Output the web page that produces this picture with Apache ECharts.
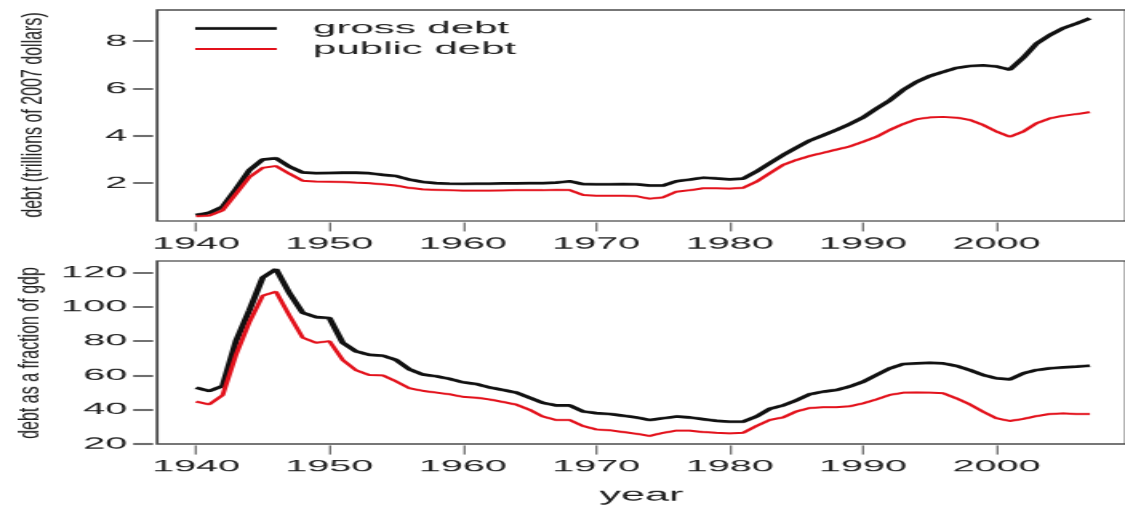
<!DOCTYPE html>
<html>
<head>
<meta charset="utf-8">
<script src="https://cdn.jsdelivr.net/npm/echarts@6/dist/echarts.min.js"></script>
<style>
  html, body { margin: 0; padding: 0; background: #fff; overflow: hidden; }
  #wrap { width: 1125px; height: 506px; overflow: hidden; position: relative; }
  /* the figure is laid out narrow and widened horizontally */
  #chart { width: 469px; height: 506px; transform-origin: 0 0; }
</style>
</head>
<body>
<div id="wrap"><div id="chart"></div></div>
<script>
// ---- data -------------------------------------------------------------
const years = [
  1940, 1941, 1942, 1943, 1944, 1945, 1946, 1947, 1948, 1949,
  1950, 1951, 1952, 1953, 1954, 1955, 1956, 1957, 1958, 1959,
  1960, 1961, 1962, 1963, 1964, 1965, 1966, 1967, 1968, 1969,
  1970, 1971, 1972, 1973, 1974, 1975, 1976, 1977, 1978, 1979,
  1980, 1981, 1982, 1983, 1984, 1985, 1986, 1987, 1988, 1989,
  1990, 1991, 1992, 1993, 1994, 1995, 1996, 1997, 1998, 1999,
  2000, 2001, 2002, 2003, 2004, 2005, 2006, 2007
];

// debt in trillions of 2007 dollars
const grossDebt = [
  0.65, 0.75, 1.00, 1.75, 2.55, 3.00, 3.05, 2.70, 2.45, 2.42,
  2.43, 2.44, 2.44, 2.42, 2.35, 2.30, 2.15, 2.05, 2.00, 1.98,
  1.97, 1.98, 1.98, 1.99, 1.99, 2.00, 2.00, 2.02, 2.08, 1.96,
  1.95, 1.95, 1.96, 1.95, 1.90, 1.90, 2.08, 2.15, 2.23, 2.20,
  2.16, 2.19, 2.49, 2.84, 3.19, 3.50, 3.80, 4.02, 4.25, 4.50,
  4.78, 5.15, 5.50, 5.94, 6.28, 6.53, 6.70, 6.87, 6.95, 6.98,
  6.93, 6.80, 7.30, 7.90, 8.26, 8.55, 8.75, 8.97
];
const publicDebt = [
  0.60, 0.63, 0.85, 1.55, 2.25, 2.65, 2.72, 2.40, 2.10, 2.07,
  2.06, 2.05, 2.02, 2.00, 1.95, 1.90, 1.80, 1.74, 1.72, 1.70,
  1.68, 1.68, 1.68, 1.69, 1.70, 1.70, 1.70, 1.72, 1.71, 1.50,
  1.47, 1.47, 1.47, 1.45, 1.34, 1.40, 1.64, 1.70, 1.78, 1.78,
  1.77, 1.80, 2.06, 2.42, 2.77, 2.98, 3.15, 3.28, 3.42, 3.55,
  3.75, 3.96, 4.25, 4.50, 4.70, 4.78, 4.80, 4.77, 4.67, 4.46,
  4.18, 3.96, 4.18, 4.53, 4.74, 4.85, 4.92, 5.00
];

// debt as a percentage of gdp
const grossDebtGdp = [
  52.8, 50.9, 53.8, 80.0, 98.0, 117.0, 122.0, 108.0, 96.5, 94.0,
  93.5, 79.0, 74.0, 72.0, 71.5, 69.0, 63.5, 60.5, 59.5, 58.0,
  56.0, 55.0, 53.0, 51.5, 50.0, 47.0, 44.0, 42.5, 42.5, 39.0,
  38.0, 37.5, 36.5, 35.5, 34.0, 35.0, 36.0, 35.5, 34.5, 33.5,
  33.0, 33.0, 36.0, 40.5, 42.5, 45.5, 49.0, 50.5, 51.5, 53.5,
  56.3, 60.2, 64.1, 66.6, 67.0, 67.3, 67.0, 65.5, 63.1, 60.2,
  58.3, 57.7, 61.2, 63.1, 64.1, 64.7, 65.1, 65.7
];
const publicDebtGdp = [
  44.7, 43.1, 48.5, 72.0, 91.0, 106.5, 108.8, 95.0, 82.0, 79.0,
  80.0, 69.0, 63.0, 60.2, 60.0, 56.5, 52.5, 51.0, 50.0, 49.0,
  47.5, 47.0, 46.0, 44.5, 43.0, 40.0, 36.0, 34.0, 34.0, 30.5,
  28.5, 28.0, 27.0, 26.0, 24.7, 26.5, 27.8, 27.8, 27.0, 26.5,
  26.2, 26.5, 30.5, 34.0, 35.5, 39.0, 41.0, 41.5, 41.5, 42.0,
  43.7, 46.0, 48.6, 49.9, 50.0, 49.9, 49.6, 46.6, 43.1, 38.8,
  35.0, 33.4, 34.6, 36.3, 37.5, 37.9, 37.5, 37.5
];

// tick labels
const yearTicks = [1940, 1950, 1960, 1970, 1980, 1990, 2000];
const dollarTicks = [2, 4, 6, 8];
const gdpTicks = [20, 40, 60, 80, 100, 120];

const seriesNames = ['gross debt', 'public debt'];

// ---- layout -----------------------------------------------------------
const chartEl = document.getElementById('chart');
const BASE_W = 469;
const K = 1125 / BASE_W;               // horizontal widening factor
chartEl.style.transform = 'scaleX(' + K + ')';
const sx = px => px / K;               // page x -> unscaled x

const FONT = '"Liberation Sans", Arial, Helvetica, sans-serif';
const INK = '#222';
const BOX = '#4a4a4a';

const plotLeft = sx(157);
const xMin = 1937.09;
const xMax = 2009.69;

function pairs(vals) { return years.map((y, i) => [y, vals[i]]); }

function xAxisCfg(gridIndex, withName) {
  return {
    type: 'value', gridIndex: gridIndex, min: xMin, max: xMax,
    offset: 1.5,
    axisLine: { show: false },
    splitLine: { show: false },
    axisTick: { show: true, length: 9, customValues: yearTicks,
                lineStyle: { color: BOX, width: 0.7 } },
    axisLabel: { show: true, customValues: yearTicks, margin: 13,
                 formatter: v => String(v),
                 color: INK, fontSize: 16.5, fontFamily: FONT },
    name: withName ? 'year' : '',
    nameLocation: 'middle', nameGap: 41,
    nameTextStyle: { color: INK, fontSize: 18, fontFamily: FONT }
  };
}

function yAxisCfg(gridIndex, min, max, ticks) {
  return {
    type: 'value', gridIndex: gridIndex, min: min, max: max,
    offset: sx(4),
    axisLine: { show: false },
    splitLine: { show: false },
    axisTick: { show: true, length: sx(20), customValues: ticks,
                lineStyle: { color: BOX, width: 1.6 } },
    axisLabel: { show: true, customValues: ticks, margin: sx(26),
                 color: INK, fontSize: 16.5, fontFamily: FONT }
  };
}

const lineBlack = { color: '#111', width: 2.7 };
const lineRed = { color: '#e3121c', width: 2.0 };

// legend keys: a stroke across a 34x14 box (corner specks keep the box size)
const keyBlack = 'path://M0,0 L0.01,0 L0,0.01 Z M0,5.6 L34,5.6 L34,8.4 L0,8.4 Z M34,14 L33.99,14 L34,13.99 Z';
const keyRed = 'path://M0,0 L0.01,0 L0,0.01 Z M0,6 L34,6 L34,8 L0,8 Z M34,14 L33.99,14 L34,13.99 Z';

const option = {
  animation: false,
  backgroundColor: '#ffffff',
  grid: [
    { left: plotLeft, right: -2, top: 10, height: 211,
      show: true, borderColor: BOX, borderWidth: 1.2, backgroundColor: 'transparent' },
    { left: plotLeft, right: -2, top: 261, height: 183,
      show: true, borderColor: BOX, borderWidth: 1.2, backgroundColor: 'transparent' }
  ],
  xAxis: [xAxisCfg(0, false), xAxisCfg(1, true)],
  yAxis: [
    yAxisCfg(0, 0.4, 9.32, dollarTicks),
    yAxisCfg(1, 20, 126.7, gdpTicks)
  ],
  legend: {
    data: [
      { name: seriesNames[0], icon: keyBlack },
      { name: seriesNames[1], icon: keyRed }
    ],
    orient: 'vertical',
    left: sx(195), top: 19.5,
    padding: 0, itemGap: 2.5,
    itemWidth: sx(82), itemHeight: 14,
    textStyle: { color: INK, fontSize: 17.5, fontFamily: FONT, padding: [0, 0, 0, sx(24)] },
    selectedMode: false
  },
  graphic: [
    { type: 'text', x: sx(33), y: 115, rotation: Math.PI / 2, scaleY: 0.76,
      style: { text: 'debt (trillions of 2007 dollars)', fontSize: 16, fontFamily: FONT,
               fill: INK, align: 'center', verticalAlign: 'middle' } },
    { type: 'text', x: sx(31), y: 353, rotation: Math.PI / 2, scaleY: 0.76,
      style: { text: 'debt as a fraction of gdp', fontSize: 16, fontFamily: FONT,
               fill: INK, align: 'center', verticalAlign: 'middle' } }
  ],
  series: [
    { name: seriesNames[0], type: 'line', xAxisIndex: 0, yAxisIndex: 0,
      data: pairs(grossDebt), showSymbol: false, symbol: 'none',
      lineStyle: lineBlack, itemStyle: { color: lineBlack.color }, z: 2 },
    { name: seriesNames[1], type: 'line', xAxisIndex: 0, yAxisIndex: 0,
      data: pairs(publicDebt), showSymbol: false, symbol: 'none',
      lineStyle: lineRed, itemStyle: { color: lineRed.color }, z: 3 },
    { name: seriesNames[0], type: 'line', xAxisIndex: 1, yAxisIndex: 1,
      data: pairs(grossDebtGdp), showSymbol: false, symbol: 'none',
      lineStyle: lineBlack, itemStyle: { color: lineBlack.color }, z: 2 },
    { name: seriesNames[1], type: 'line', xAxisIndex: 1, yAxisIndex: 1,
      data: pairs(publicDebtGdp), showSymbol: false, symbol: 'none',
      lineStyle: lineRed, itemStyle: { color: lineRed.color }, z: 3 }
  ]
};

const chart = echarts.init(chartEl, null, { renderer: 'canvas', devicePixelRatio: 1.5 });
chart.setOption(option);
</script>
</body>
</html>
